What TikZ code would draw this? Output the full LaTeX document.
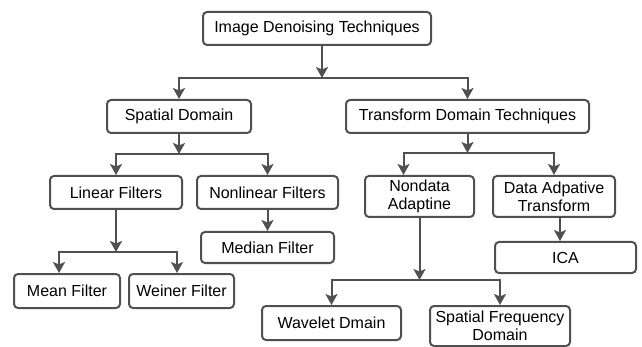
\documentclass[tikz,border=0pt]{standalone}
\usepackage{fontspec}
\setmainfont{Liberation Sans}
\usetikzlibrary{arrows.meta}
\definecolor{linegray}{RGB}{80,80,80}

\begin{document}
\begin{tikzpicture}[%
    x=1pt, y=-1pt,              % Pixel-like units, y grows downwards
    >={Stealth[length=11pt,width=12pt,inset=2.5pt]}, % Filled arrow heads
    line width=2pt,             % Heavy boxes and connectors
    ]
% -------------------------------------------------
% A few box styles
\tikzset{
  base/.style={draw=linegray, rounded corners=4pt, align=center, inner sep=0pt,
    text=black, font=\fontsize{16}{18}\selectfont},
  box/.style={base, minimum height=33pt},
  tall/.style={base, minimum height=41pt},
  % Connector line style
  norm/.style={->, draw=linegray},
}
\useasboundingbox (0,0) rectangle (642,347);
% -------------------------------------------------
% Start by placing the nodes
\node [box, minimum width=228pt] (ident) at (317,28.5) {Image Denoising Techniques};

\node [box, minimum width=144pt] (spat) at (179,116.5) {Spatial Domain};
\node [box, minimum width=243pt] (trans) at (467.5,116.5) {Transform Domain Techniques};

\node [box, minimum width=132pt] (lin) at (116,192.5) {Linear Filters};
\node [box, minimum width=141pt] (nonlin) at (267.5,192.5) {Nonlinear Filters};
\node [box, minimum width=133pt, minimum height=31pt] (median) at (267.5,247.5) {Median Filter};
\node [box, minimum width=106pt, minimum height=34pt] (mean) at (67,291) {Mean Filter};
\node [box, minimum width=105pt, minimum height=34pt] (weiner) at (181.5,291) {Weiner Filter};

\node [tall, minimum width=109pt] (nda) at (419.5,196.5) {Nondata\\Adaptine};
\node [tall, minimum width=122pt] (dat) at (554,196.5) {Data Adpative\\Transform};
\node [box, minimum width=141pt, minimum height=31pt] (ica) at (565.5,257.5) {ICA};
\node [box, minimum width=139pt, minimum height=34pt] (wav) at (331.5,323) {Wavelet Dmain};
\node [tall, minimum width=140pt, minimum height=40pt] (sfd) at (500,326) {Spatial Frequency\\Domain};

% -------------------------------------------------
% Branch points and arrow feet
\coordinate (j0) at (322,78);
\coordinate (j1) at (179,154);
\coordinate (j2) at (116,252);
\coordinate (j3) at (467.5,153);
\coordinate (j4) at (419.5,280);
\coordinate (meanin) at ([xshift=-8pt]mean.north);
\coordinate (weinin) at ([xshift=-4.5pt]weiner.north);
\coordinate (ndain) at ([xshift=-16pt]nda.north);
\coordinate (datout) at ([xshift=6pt]dat.south);

% Connectors
\draw [norm] (ident.south -| j0) -- (j0);
\draw [norm] (j0) -| (spat.north);
\draw [norm] (j0) -| (trans.north);

\draw [norm] (spat.south) -- (j1);
\draw [norm] (j1) -| (lin.north);
\draw [norm] (j1) -| (nonlin.north);
\draw [norm] (nonlin) -- (median);

\draw [norm] (lin.south) -- (j2);
\draw [norm] (j2) -| (meanin);
\draw [norm] (j2) -| (weinin);

\draw [norm] (trans.south) -- (j3);
\draw [norm] (j3) -| (ndain);
\draw [norm] (j3) -| (dat.north);
\draw [norm] (datout) -- (datout |- ica.north);

\draw [norm] (nda.south) -- (j4);
\draw [norm] (j4) -| (wav.north);
\draw [norm] (j4) -| (sfd.north);
% -------------------------------------------------
\end{tikzpicture}
\end{document}
